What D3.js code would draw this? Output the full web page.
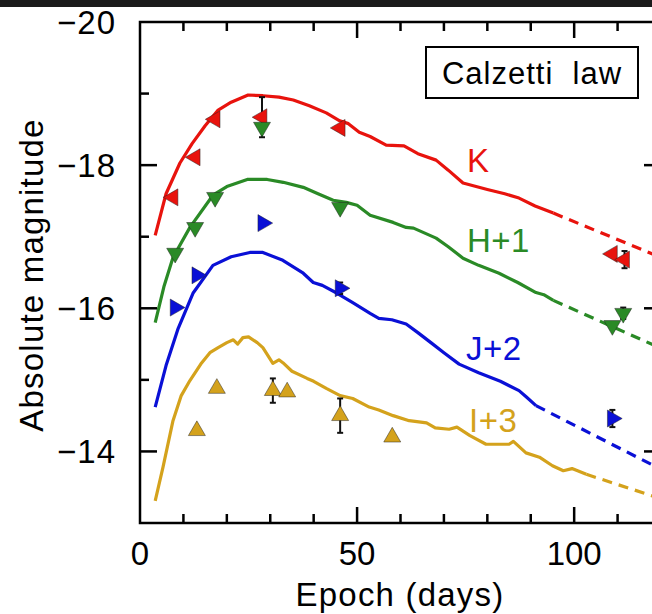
<!DOCTYPE html>
<html>
<head>
<meta charset="utf-8">
<script src="https://cdn.jsdelivr.net/npm/d3@7"></script>
<style>
  body { margin: 0; background: #fff; }
  svg { display: block; font-family: "Liberation Sans", Arial, sans-serif; }
</style>
</head>
<body>
<div id="chart"></div>
<script>
// model curves, [day, magnitude] (solid part)
var kCurve = [[3.5,-17.02],[6,-17.6],[9.2,-18.03],[12,-18.3],[15,-18.55],[18,-18.77],[21,-18.88],[24.9,-18.98],[28.3,-18.97],[32,-18.95],[35.3,-18.91],[39,-18.83],[42.9,-18.73],[46,-18.62],[48,-18.58],[50.5,-18.46],[53,-18.40],[56.7,-18.28],[60.8,-18.27],[64,-18.16],[68.2,-18.07],[71,-17.93],[74.4,-17.75],[80,-17.66],[84,-17.60],[87.3,-17.54],[91,-17.43],[95.2,-17.33]];
var hCurve = [[3.5,-15.8],[5.5,-16.3],[7.6,-16.71],[11.5,-17.13],[16.8,-17.58],[20,-17.7],[24.7,-17.8],[29.3,-17.8],[33,-17.76],[37.6,-17.69],[41,-17.6],[44.5,-17.51],[47.5,-17.48],[50,-17.44],[53,-17.30],[58.3,-17.20],[61.3,-17.13],[63,-17.12],[68.2,-16.98],[71,-16.86],[74.4,-16.70],[78,-16.60],[82.7,-16.49],[87,-16.36],[91.2,-16.22],[93,-16.19],[95.2,-16.11]];
var jCurve = [[3.5,-14.62],[6,-15.2],[8.8,-15.72],[12.2,-16.21],[16.8,-16.60],[21,-16.72],[25.3,-16.78],[28.3,-16.78],[32.9,-16.67],[37.6,-16.49],[39.9,-16.36],[42,-16.32],[45.4,-16.21],[49,-16.08],[53,-15.93],[55,-15.86],[58,-15.84],[61.3,-15.78],[64,-15.66],[67,-15.52],[70,-15.38],[73.5,-15.22],[78,-15.1],[83,-14.98],[87.3,-14.85],[89,-14.76],[91.2,-14.64]];
var iCurve = [[3.5,-13.31],[5.3,-13.78],[7.6,-14.43],[9.5,-14.78],[11.5,-14.99],[14,-15.22],[16.1,-15.38],[18,-15.45],[20,-15.52],[21.5,-15.56],[22.5,-15.5],[23.7,-15.59],[25,-15.6],[27,-15.52],[28.3,-15.45],[30.6,-15.23],[32,-15.28],[32.9,-15.24],[35,-15.12],[38.5,-15.02],[40,-14.98],[42.9,-14.88],[46.1,-14.78],[49,-14.74],[52.8,-14.62],[55,-14.58],[58.3,-14.50],[62,-14.43],[66,-14.40],[68,-14.33],[71.2,-14.31],[73,-14.34],[76,-14.22],[79.7,-14.10],[85,-14.10],[86,-14.14],[88.9,-13.98],[92,-13.92],[95,-13.80],[97.5,-13.73],[99.5,-13.76],[102.8,-13.68]];

// dashed extrapolations
var kDash = [[95.2,-17.33],[120,-16.71]];
var hDash = [[95.2,-16.11],[120,-15.44]];
var jDash = [[91.2,-14.64],[120,-13.75]];
var iDash = [[102.8,-13.68],[120,-13.34]];

// observed points [day, magnitude, error]
var kObs = [[7.6,-17.55,0],[12.7,-18.11,0],[17.3,-18.64,0],[28.1,-18.67,0.28],[46.1,-18.52,0],[108.8,-16.76,0],[111.6,-16.68,0.12]];
var hObs = [[8.1,-16.77,0],[12.7,-17.13,0],[17.3,-17.55,0],[28.1,-18.53,0],[46.1,-17.41,0],[108.8,-15.76,0],[111.3,-15.93,0.08]];
var jObs = [[8.1,-16.01,0],[13.1,-16.46,0],[28.3,-17.19,0],[46.1,-16.28,0.08],[108.8,-14.46,0.12]];
var iObs = [[13.1,-14.29,0],[17.7,-14.88,0],[30.6,-14.85,0.17],[33.9,-14.83,0],[46.1,-14.50,0.24],[58.1,-14.20,0]];

var bands = [
  {name: "K",   curve: kCurve, dash: kDash, obs: kObs, color: "#e8130d", rot: -90, lx: 467, ly: 172},
  {name: "H+1", curve: hCurve, dash: hDash, obs: hObs, color: "#2a8a26", rot: 180, lx: 467, ly: 252},
  {name: "J+2", curve: jCurve, dash: jDash, obs: jObs, color: "#0a10d6", rot: 90,  lx: 466, ly: 360},
  {name: "I+3", curve: iCurve, dash: iDash, obs: iObs, color: "#d4a21c", rot: 0,   lx: 469, ly: 432}
];

var xTicks = [0, 50, 100];
var yTicks = [-20, -18, -16, -14];

var width = 652, height = 614;

var svg = d3.select("#chart").append("svg")
    .attr("width", width)
    .attr("height", height);

svg.append("rect").attr("width", width).attr("height", height).attr("fill", "#fff");
svg.append("rect").attr("width", width).attr("height", 7).attr("fill", "#1b1b1b");

var x = d3.scaleLinear().domain([0, 120]).range([140, 661]);
var y = d3.scaleLinear().domain([-20, -13]).range([22, 523]);

var line = d3.line()
    .x(function(d) { return x(d[0]); })
    .y(function(d) { return y(d[1]); });

var plot = svg.append("g");

// curves
bands.forEach(function(b) {
  plot.append("path")
      .attr("d", line(b.curve))
      .attr("fill", "none")
      .attr("stroke", b.color)
      .attr("stroke-width", 3.2)
      .attr("stroke-linejoin", "round");
  plot.append("path")
      .attr("d", line(b.dash))
      .attr("fill", "none")
      .attr("stroke", b.color)
      .attr("stroke-width", 3.2)
      .attr("stroke-dasharray", "10,7");
});

// error bars then markers
var tri = d3.symbol().type(d3.symbolTriangle).size(125);
bands.forEach(function(b) {
  var eb = plot.append("g").attr("stroke", "#111").attr("stroke-width", 2);
  b.obs.filter(function(d) { return d[2] > 0; }).forEach(function(d) {
    var cx = x(d[0]);
    eb.append("line").attr("x1", cx).attr("x2", cx).attr("y1", y(d[1] - d[2])).attr("y2", y(d[1] + d[2]));
    eb.append("line").attr("x1", cx - 3).attr("x2", cx + 3).attr("y1", y(d[1] - d[2])).attr("y2", y(d[1] - d[2]));
    eb.append("line").attr("x1", cx - 3).attr("x2", cx + 3).attr("y1", y(d[1] + d[2])).attr("y2", y(d[1] + d[2]));
  });
  plot.append("g").selectAll("path")
      .data(b.obs)
      .join("path")
      .attr("d", tri)
      .attr("transform", function(d) { return "translate(" + x(d[0]) + "," + y(d[1]) + ") rotate(" + b.rot + ")"; })
      .attr("fill", b.color)
      .attr("stroke", "#222")
      .attr("stroke-width", 0.8)
      .attr("stroke-opacity", 0.6);

  plot.append("text")
      .attr("x", b.lx)
      .attr("y", b.ly)
      .attr("fill", b.color)
      .attr("font-size", 33)
      .attr("letter-spacing", 0.5)
      .text(b.name);
});

// frame
svg.append("rect")
    .attr("x", x(0)).attr("y", y(-20))
    .attr("width", x(120) - x(0)).attr("height", y(-13) - y(-20))
    .attr("fill", "none")
    .attr("stroke", "#000")
    .attr("stroke-width", 2.5);

// ticks on all four sides
var ticks = svg.append("g").attr("stroke", "#000").attr("stroke-width", 2.5);
d3.range(10, 120, 10).forEach(function(v) {
  var len = (v % 50 === 0) ? 16 : 9;
  ticks.append("line").attr("x1", x(v)).attr("x2", x(v)).attr("y1", y(-13)).attr("y2", y(-13) - len);
  ticks.append("line").attr("x1", x(v)).attr("x2", x(v)).attr("y1", y(-20)).attr("y2", y(-20) + len);
});
d3.range(-19, -13, 1).forEach(function(v) {
  var len = (v % 2 === 0) ? 17 : 9;
  ticks.append("line").attr("x1", x(0)).attr("x2", x(0) + len).attr("y1", y(v)).attr("y2", y(v));
  ticks.append("line").attr("x1", x(120)).attr("x2", x(120) - len).attr("y1", y(v)).attr("y2", y(v));
});

// tick labels
svg.append("g").selectAll("text")
    .data(xTicks)
    .join("text")
    .attr("x", function(d) { return x(d); })
    .attr("y", 565)
    .attr("text-anchor", "middle")
    .attr("font-size", 33)
    .text(function(d) { return d; });

svg.append("g").selectAll("text")
    .data(yTicks)
    .join("text")
    .attr("x", 116)
    .attr("y", function(d) { return y(d) + 12; })
    .attr("text-anchor", "end")
    .attr("font-size", 33)
    .attr("letter-spacing", 1)
    .text(function(d) { return "\u2212" + Math.abs(d); });

// axis titles
svg.append("text")
    .attr("x", 400)
    .attr("y", 606)
    .attr("text-anchor", "middle")
    .attr("font-size", 33)
    .attr("letter-spacing", 1.2)
    .text("Epoch (days)");

svg.append("text")
    .attr("transform", "translate(43,275) rotate(-90)")
    .attr("text-anchor", "middle")
    .attr("font-size", 33)
    .attr("letter-spacing", 1.2)
    .text("Absolute magnitude");

// legend box
svg.append("rect")
    .attr("x", 426).attr("y", 47)
    .attr("width", 212).attr("height", 51)
    .attr("fill", "#fff")
    .attr("stroke", "#000")
    .attr("stroke-width", 2);
svg.append("text")
    .attr("x", 532)
    .attr("y", 84)
    .attr("text-anchor", "middle")
    .attr("font-size", 31)
    .attr("letter-spacing", 1)
    .attr("xml:space", "preserve")
    .style("white-space", "pre")
    .text("Calzetti  law");
</script>
</body>
</html>
